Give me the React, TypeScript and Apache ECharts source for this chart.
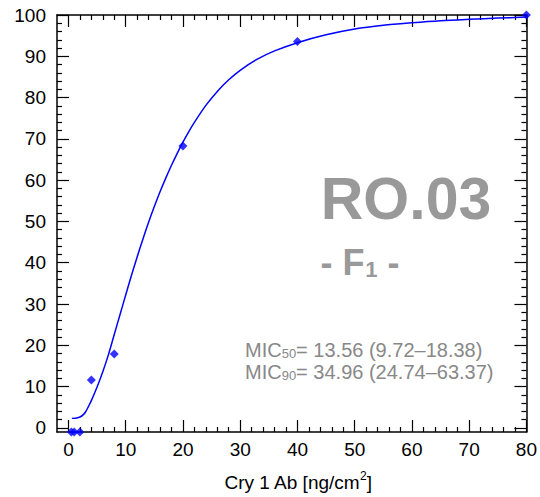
import React, { useEffect, useRef } from 'react';
import * as echarts from 'echarts';

// Observed doses (ng/cm²) and responses (%)
const doseX = [0.5, 1, 2, 4, 8, 20, 40, 80];
const responseY = [-1, -1, -1, 11.6, 17.9, 68.3, 93.6, 100];

// Fitted curve, points
const fitX = [0.6, 1.2, 1.6, 2.1, 2.6, 3, 3.5, 4, 5, 6, 7, 8, 9, 10, 11, 12, 13, 14, 15, 16, 17, 18, 19, 20, 21, 22, 24, 26, 28, 30, 33, 36, 40, 45, 50, 55, 60, 65, 70, 75, 80];
const fitY = [2.3, 2.35, 2.45, 2.7, 3.2, 3.9, 5.2, 6.6, 9.9, 13.6, 17.8, 22.6, 27.4, 32.2, 36.9, 41.4, 45.7, 49.8, 53.6, 57.2, 60.5, 63.6, 66.5, 69.2, 71.7, 74.0, 78.1, 81.5, 84.3, 86.6, 89.3, 91.3, 93.3, 95.2, 96.6, 97.5, 98.1, 98.6, 98.95, 99.25, 99.5];

const xMajorTicks = [0, 10, 20, 30, 40, 50, 60, 70, 80];
const xMinorTicks = [2, 4, 6, 8, 12, 14, 16, 18, 22, 24, 26, 28, 32, 34, 36, 38, 42, 44, 46, 48, 52, 54, 56, 58, 62, 64, 66, 68, 72, 74, 76, 78];
const yMajorTicks = [0, 10, 20, 30, 40, 50, 60, 70, 80, 90, 100];
const yMinorTicks = [2, 4, 6, 8, 12, 14, 16, 18, 22, 24, 26, 28, 32, 34, 36, 38, 42, 44, 46, 48, 52, 54, 56, 58, 62, 64, 66, 68, 72, 74, 76, 78, 82, 84, 86, 88, 92, 94, 96, 98];

const xRange = [-2, 80];
const yRange = [-1, 100];

const FONT = '"Liberation Sans", Arial, Helvetica, sans-serif';

export default function App() {
  const ref = useRef<HTMLDivElement>(null);
  useEffect(() => {
    if (!ref.current) return;
    const chart = echarts.init(ref.current, null, { renderer: 'svg' });
    const lineCol = '#000';
    const mkX = (pos: string, ticks: number[], len: number, labels: boolean, line: boolean) => ({
      type: 'value',
      position: pos,
      min: xRange[0],
      max: xRange[1],
      axisLine: { show: line, onZero: false, lineStyle: { color: lineCol, width: 1.5 } },
      axisTick: { show: true, inside: true, length: len, customValues: ticks, lineStyle: { color: lineCol, width: 1.2 } },
      axisLabel: labels
        ? { show: true, customValues: ticks, fontSize: 19, color: '#000', margin: 8, fontFamily: FONT }
        : { show: false },
      splitLine: { show: false },
      minorTick: { show: false },
    });
    const mkY = (pos: string, ticks: number[], len: number, labels: boolean, line: boolean) => ({
      type: 'value',
      position: pos,
      min: yRange[0],
      max: yRange[1],
      axisLine: { show: line, onZero: false, lineStyle: { color: lineCol, width: 1.5 } },
      axisTick: { show: true, inside: true, length: len, customValues: ticks, lineStyle: { color: lineCol, width: 1.2 } },
      axisLabel: labels
        ? { show: true, customValues: ticks, fontSize: 19, color: '#000', margin: 11, fontFamily: FONT }
        : { show: false },
      splitLine: { show: false },
      minorTick: { show: false },
    });
    const micRich = {
      a: { font: `20px ${FONT}`, fill: '#888888', verticalAlign: 'bottom', lineHeight: 22 },
      s: { font: `13px ${FONT}`, fill: '#888888', verticalAlign: 'bottom', lineHeight: 19 },
    };
    chart.setOption({
      animation: false,
      backgroundColor: '#fff',
      grid: { left: 57, top: 15, width: 472, height: 417, containLabel: false },
      xAxis: [
        mkX('bottom', xMajorTicks, 12, true, true),
        mkX('bottom', xMinorTicks, 5, false, false),
        mkX('top', xMajorTicks, 12, false, true),
        mkX('top', xMinorTicks, 5, false, false),
      ],
      yAxis: [
        mkY('left', yMajorTicks, 12, true, true),
        mkY('left', yMinorTicks, 5, false, false),
        mkY('right', yMajorTicks, 12, false, true),
        mkY('right', yMinorTicks, 5, false, false),
      ],
      series: [
        {
          type: 'line',
          xAxisIndex: 0,
          yAxisIndex: 0,
          data: fitX.map((x, i) => [x, fitY[i]]),
          showSymbol: false,
          smooth: 0.3,
          lineStyle: { color: '#0000ff', width: 1.5 },
          z: 3,
        },
        {
          type: 'scatter',
          xAxisIndex: 0,
          yAxisIndex: 0,
          data: doseX.map((x, i) => [x, responseY[i]]),
          symbol: 'diamond',
          symbolSize: 9,
          itemStyle: { color: '#0000ff' },
          clip: false,
          z: 4,
        },
      ],
      graphic: [
        {
          type: 'text',
          x: 406,
          y: 199,
          style: {
            text: 'RO.03',
            font: `bold 59px ${FONT}`,
            fill: '#999999',
            textAlign: 'center',
            textVerticalAlign: 'middle',
          },
        },
        {
          type: 'text',
          x: 360,
          y: 260,
          style: {
            text: '{a|- F}{s|1}{a| -}',
            fill: '#999999',
            textAlign: 'center',
            textVerticalAlign: 'middle',
            rich: {
              a: { font: `bold 36px ${FONT}`, fill: '#999999', verticalAlign: 'bottom', lineHeight: 40 },
              s: { font: `bold 22px ${FONT}`, fill: '#999999', verticalAlign: 'bottom', lineHeight: 32, padding: [0, 0, 0, 1] },
            },
          },
        },
        {
          type: 'text',
          x: 245,
          y: 349,
          style: {
            text: '{a|MIC}{s|50}{a|= 13.56 (9.72–18.38)}',
            textAlign: 'left',
            textVerticalAlign: 'middle',
            rich: micRich,
          },
        },
        {
          type: 'text',
          x: 245,
          y: 371,
          style: {
            text: '{a|MIC}{s|90}{a|= 34.96 (24.74–63.37)}',
            textAlign: 'left',
            textVerticalAlign: 'middle',
            rich: micRich,
          },
        },
        {
          type: 'text',
          x: 298,
          y: 481,
          style: {
            text: '{a|Cry 1 Ab [ng/cm}{p|2}{a|]}',
            textAlign: 'center',
            textVerticalAlign: 'middle',
            rich: {
              a: { font: `19px ${FONT}`, fill: '#000', verticalAlign: 'bottom', lineHeight: 22 },
              p: { font: `12px ${FONT}`, fill: '#000', verticalAlign: 'top', lineHeight: 22 },
            },
          },
        },
      ],
    });
    return () => chart.dispose();
  }, []);
  return <div ref={ref} style={{ width: 540, height: 497, position: 'absolute', left: 0, top: 0 }} />;
}
